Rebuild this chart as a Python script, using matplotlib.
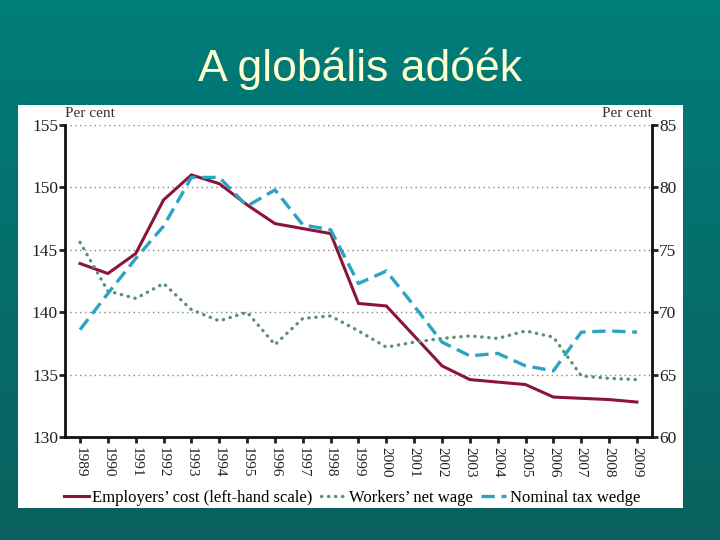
import matplotlib
matplotlib.use("Agg")
import matplotlib.pyplot as plt
import numpy as np
from matplotlib.patches import Rectangle

# ── data ─────────────────────────────────────────────────────────────────
YEARS = list(range(1989, 2010))
EMPLOYERS = [143.9, 143.1, 144.7, 149.0, 151.0, 150.3, 148.6, 147.1, 146.7, 146.3,
             140.7, 140.5, 138.1, 135.7, 134.6, 134.4, 134.2, 133.2, 133.1, 133.0, 132.8]
WORKERS = [75.6, 71.7, 71.1, 72.3, 70.2, 69.3, 70.0, 67.4, 69.5, 69.7,
           68.5, 67.2, 67.6, 67.9, 68.1, 67.9, 68.5, 68.0, 64.9, 64.7, 64.6]
WEDGE = [68.6, 71.5, 74.3, 76.9, 80.8, 80.8, 78.5, 79.8, 77.0, 76.6,
         72.3, 73.3, 70.5, 67.6, 66.5, 66.7, 65.7, 65.3, 68.4, 68.5, 68.4]
LEFT_TICKS = [130, 135, 140, 145, 150, 155]
RIGHT_TICKS = [60, 65, 70, 75, 80, 85]

# ── style ────────────────────────────────────────────────────────────────
MAROON, CYAN, GREEN = "#8a1538", "#2ba4c4", "#5b8f74"
SERIF = ["Liberation Serif", "DejaVu Serif"]
W, H = 720, 540

fig = plt.figure(figsize=(7.2, 5.4), dpi=100)

# teal slide background
bg = fig.add_axes([0, 0, 1, 1], zorder=-10)
grad = np.linspace(0, 1, 256).reshape(-1, 1)
cmap = matplotlib.colors.LinearSegmentedColormap.from_list("teal", ["#007d7a", "#0a605e"])
bg.imshow(grad, aspect="auto", cmap=cmap, extent=(0, 1, 0, 1), origin="upper")
bg.set_axis_off()

fig.text(0.5, 1 - 69 / H, "A globális adóék", ha="center", va="center",
         fontsize=32, color="#ffffd0", family="Liberation Sans")

# white chart panel
fig.patches.append(Rectangle((18 / W, 1 - 508 / H), (683 - 18) / W, (508 - 105) / H,
                             transform=fig.transFigure, facecolor="white",
                             edgecolor="none", zorder=-5))

ax = fig.add_axes([65 / W, 1 - 437 / H, (652 - 65) / W, (437 - 125) / H])
ax.set_facecolor("none")
ax2 = ax.twinx()

l1, = ax.plot(YEARS, EMPLOYERS, color=MAROON, lw=2.2, solid_joinstyle="miter",
              label="Employers’ cost (left-hand scale)", zorder=4)
l2, = ax2.plot(YEARS, WORKERS, color=GREEN, lw=2.4, linestyle=(0, (0.1, 2.0)),
               dash_capstyle="round", label="Workers’ net wage")
l3, = ax2.plot(YEARS, WEDGE, color=CYAN, lw=2.4, linestyle=(0, (4, 2)),
               label="Nominal tax wedge")

ax.set_xlim(1988.46, 2009.54)
ax.set_ylim(130, 155)
ax2.set_ylim(60, 85)
ax.set_yticks(LEFT_TICKS)
ax2.set_yticks(RIGHT_TICKS)
ax.set_xticks(YEARS)
ax.set_xticklabels([str(y) for y in YEARS], rotation=-90, family=SERIF, fontsize=11)
for t in ax.get_yticklabels():
    t.set_family(SERIF)
for t in ax2.get_yticklabels():
    t.set_family(SERIF)

for a in (ax, ax2):
    a.tick_params(direction="out", length=4, width=2, labelsize=12.5, colors="#222222",
                  pad=1)
    for s in a.spines.values():
        s.set_visible(False)
ax.spines["left"].set_visible(True)
ax.spines["bottom"].set_visible(True)
ax2.spines["right"].set_visible(True)
for s in (ax.spines["left"], ax.spines["bottom"], ax2.spines["right"]):
    s.set_linewidth(2)
    s.set_color("#111111")
ax.tick_params(axis="x", labelsize=11, pad=3)

for v in LEFT_TICKS[1:]:
    ax.axhline(v, color="#888888", lw=1, linestyle=(0, (1, 2.5)), zorder=1)

ax.text(0, 1.038, "Per cent", transform=ax.transAxes, family=SERIF, fontsize=11,
        color="#333333", va="center", ha="left")
ax2.text(1, 1.038, "Per cent", transform=ax2.transAxes, family=SERIF, fontsize=11,
         color="#333333", va="center", ha="right")

fig.legend(handles=[l1, l2, l3], loc="center", bbox_to_anchor=(352 / W, 1 - 498 / H),
           ncol=3, frameon=False, prop={"family": SERIF, "size": 12},
           handlelength=1.5, handletextpad=0.2, columnspacing=0.5)

fig.savefig("out.png", dpi=100)
